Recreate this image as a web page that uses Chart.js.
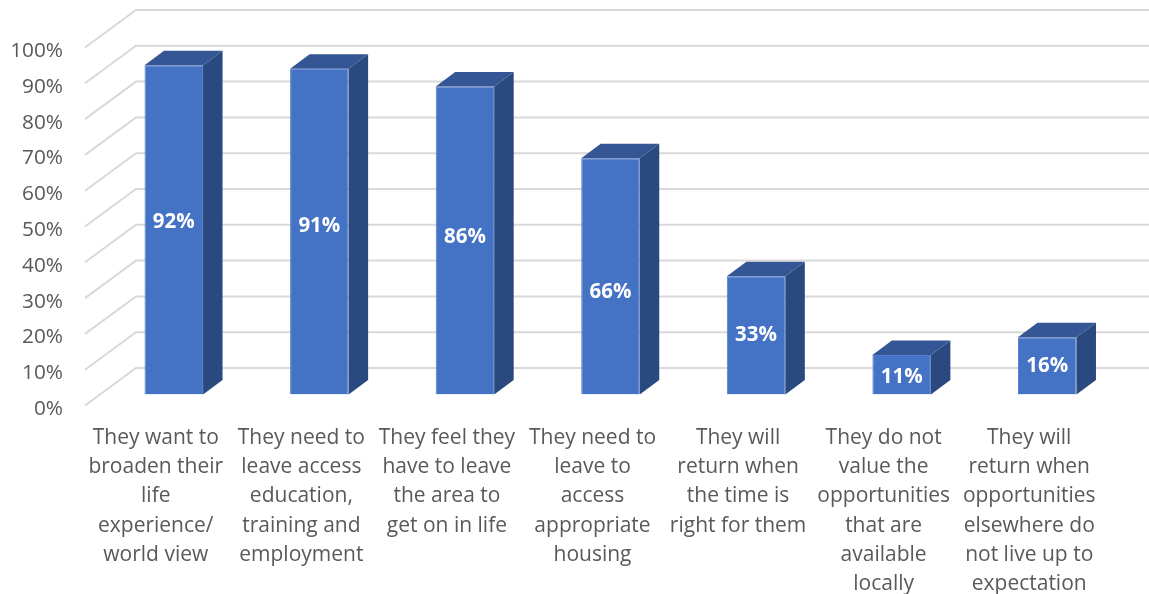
<!DOCTYPE html>
<html>
<head>
<meta charset="utf-8">
<style>
    html, body { margin: 0; padding: 0; background: #fff; }
    canvas { display: block; }
</style>
<script src="https://cdn.jsdelivr.net/npm/chart.js@4"></script>
</head>
<body>
<canvas id="reasonsChart" width="1149" height="594"></canvas>
<script>
// Category labels, one entry per line of text
const reasons = [
    ['They want to', 'broaden their', 'life', 'experience/', 'world view'],
    ['They need to', 'leave access', 'education,', 'training and', 'employment'],
    ['They feel they', 'have to leave', 'the area to', 'get on in life'],
    ['They need to', 'leave to', 'access', 'appropriate', 'housing'],
    ['They will', 'return when', 'the time is', 'right for them'],
    ['They do not', 'value the', 'opportunities', 'that are', 'available', 'locally'],
    ['They will', 'return when', 'opportunities', 'elsewhere do', 'not live up to', 'expectation']
];
const shares = [92, 91, 86, 66, 33, 11, 16];

const fontFamily = '"Open Sans", sans-serif';

// Oblique offsets for the fake 3D look
const bar3d = { dx: 19.5, dy: 14.5 };
const wall = { left: 85, back: 136, backShift: -26.5, frontShift: 11 };

// Hand-placed data labels, pixels from the middle of each bar
const labelShift = [-8, -5, -3, 16, 0, 2, 0];

function fillPoly(ctx, points, color) {
    ctx.beginPath();
    points.forEach(function(p, i) {
        if (i === 0) ctx.moveTo(p[0], p[1]);
        else ctx.lineTo(p[0], p[1]);
    });
    ctx.closePath();
    ctx.fillStyle = color;
    ctx.fill();
}

// Back wall and floor gridlines
const wallGrid = {
    id: 'wallGrid',
    beforeDatasetsDraw(chart) {
        const ctx = chart.ctx;
        const yScale = chart.scales.y;
        ctx.save();
        ctx.strokeStyle = '#d9d9d9';
        ctx.lineWidth = 2;
        yScale.ticks.forEach(function(tick) {
            const y = yScale.getPixelForValue(tick.value);
            ctx.beginPath();
            ctx.moveTo(wall.left, y + wall.frontShift);
            ctx.lineTo(wall.back, y + wall.backShift);
            ctx.lineTo(chart.width, y + wall.backShift);
            ctx.stroke();
        });
        ctx.restore();
    }
};

// Side and top faces of the bars, then the value labels
const barFaces = {
    id: 'barFaces',
    afterDatasetsDraw(chart) {
        const ctx = chart.ctx;
        const bars = chart.getDatasetMeta(0).data;
        ctx.save();
        bars.forEach(function(bar, i) {
            const left = bar.x - bar.width / 2;
            const right = bar.x + bar.width / 2;
            const { dx, dy } = bar3d;
            fillPoly(ctx, [[right, bar.y], [right + dx, bar.y - dy], [right + dx, bar.base - dy], [right, bar.base]], '#2a4a7f');
            fillPoly(ctx, [[left, bar.y], [left + dx, bar.y - dy], [right + dx, bar.y - dy], [right, bar.y]], '#345694');

            ctx.fillStyle = '#ffffff';
            ctx.font = 'bold 20.5px ' + fontFamily;
            ctx.textAlign = 'center';
            ctx.textBaseline = 'middle';
            ctx.fillText(shares[i] + '%', bar.x, (bar.y + bar.base) / 2 + labelShift[i]);
        });
        ctx.restore();
    }
};

new Chart(document.getElementById('reasonsChart'), {
    type: 'bar',
    data: {
        labels: reasons,
        datasets: [{
            data: shares,
            backgroundColor: '#4472c4',
            borderColor: '#517dcb',
            borderWidth: 1,
            categoryPercentage: 1,
            barPercentage: 0.402
        }]
    },
    options: {
        responsive: false,
        animation: false,
        layout: { padding: { top: 36.5, right: 29, left: 0, bottom: 0 } },
        plugins: {
            legend: { display: false },
            tooltip: { enabled: false }
        },
        scales: {
            x: {
                grid: { display: false, drawTicks: false },
                border: { display: false },
                afterFit(scale) { scale.height = 199.5; },
                ticks: {
                    autoSkip: false,
                    maxRotation: 0,
                    padding: 29,
                    labelOffset: -18,
                    color: '#595959',
                    font: { family: fontFamily, size: 21, lineHeight: 1.39 }
                }
            },
            y: {
                min: 0,
                max: 100,
                grid: { display: false, drawTicks: false },
                border: { display: false },
                afterFit(scale) {
                    scale.width = 101;
                    // keep the tick labels from pushing the plot area in
                    scale.paddingTop = 0;
                    scale.paddingBottom = 0;
                },
                ticks: {
                    stepSize: 10,
                    padding: 38,
                    labelOffset: 14.5,
                    color: '#595959',
                    font: { family: fontFamily, size: 20.8 },
                    callback: function(value) { return value + '%'; }
                }
            }
        }
    },
    plugins: [wallGrid, barFaces]
});
</script>
</body>
</html>
